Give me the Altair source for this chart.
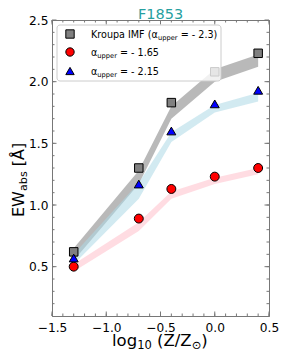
import altair as alt
import pandas as pd

# ---------------- data ----------------
logZ = [-1.3, -0.7, -0.4, 0.0, 0.4]
ew_kroupa = [0.62, 1.30, 1.83, 2.08, 2.23]
ew_a165 = [0.50, 0.89, 1.13, 1.23, 1.30]
ew_a215 = [0.57, 1.17, 1.60, 1.82, 1.93]

band_kroupa_lo = [0.55, 1.17, 1.70, 2.00, 2.12]
band_kroupa_hi = [0.65, 1.28, 1.80, 2.10, 2.22]
band_a215_lo = [0.52, 1.05, 1.51, 1.75, 1.84]
band_a215_hi = [0.60, 1.18, 1.59, 1.81, 1.91]
band_a165_lo = [0.46, 0.79, 1.05, 1.17, 1.25]
band_a165_hi = [0.52, 0.86, 1.11, 1.22, 1.30]

x_major = [-1.5, -1.0, -0.5, 0.0, 0.5]
x_minor = [round(-1.5 + 0.1 * i, 2) for i in range(21)]
y_major = [0.5, 1.0, 1.5, 2.0, 2.5]
y_minor = [round(0.2 + 0.1 * i, 2) for i in range(23)]

W, H = 217, 296
FONT = "DejaVu Sans"
FRAME = "#777777"

xs = alt.Scale(domain=[-1.5, 0.5], nice=False, zero=False)
ys = alt.Scale(domain=[0.1, 2.5], nice=False, zero=False)
xaxis = alt.Axis(values=x_major, format=".1f", ticks=False, grid=False, title=None,
                 labelFontSize=12.2, labelFont=FONT, labelColor="black", labelPadding=5,
                 labelFlush=False, domainColor=FRAME)
yaxis = alt.Axis(values=y_major, format=".1f", ticks=False, grid=False, title=None,
                 labelFontSize=12.2, labelFont=FONT, labelColor="black", labelPadding=4,
                 labelFlush=False, domainColor=FRAME)


def X(f="x"):
    return alt.X(f"{f}:Q", scale=xs, axis=xaxis)


def Y(f="y"):
    return alt.Y(f"{f}:Q", scale=ys, axis=yaxis)


def band(lo, hi, color):
    df = pd.DataFrame({"x": logZ, "y": lo, "y2": hi})
    return alt.Chart(df).mark_area(color=color, opacity=0.55).encode(
        x=X(), y=Y(), y2="y2:Q")


def pts(vals, shape, fill, size=72):
    df = pd.DataFrame({"x": logZ, "y": vals})
    return alt.Chart(df).mark_point(shape=shape, filled=True, fill=fill, stroke="black",
                                    strokeWidth=1, size=size, opacity=1).encode(x=X(), y=Y())


one = pd.DataFrame({"a": [0]})

# widths of DejaVu Sans glyphs (em)
GW = {' ': 0.318, 'K': 0.656, 'r': 0.411, 'o': 0.612, 'u': 0.634, 'p': 0.635, 'a': 0.613,
      'I': 0.295, 'M': 0.863, 'F': 0.575, '(': 0.390, ')': 0.390, 'α': 0.659, '=': 0.838,
      '-': 0.361, '.': 0.318, 'e': 0.615, 'l': 0.278, 'g': 0.635, 'Z': 0.685, '/': 0.337,
      '⊙': 0.838, 'E': 0.632, 'W': 0.989, 'b': 0.635, 's': 0.521, '[': 0.390, ']': 0.390,
      'Å': 0.684}
for d in "0123456789":
    GW[d] = 0.636


def tw(s, size):
    return sum(GW.get(c, 0.6) for c in s) * size


def seg(text, x, y, size, angle=0, color="black", align="left"):
    kw = dict(text=text, align=align, baseline="alphabetic", fontSize=size, font=FONT,
              color=color)
    if angle:
        kw["angle"] = angle
    return alt.Chart(one).mark_text(**kw).encode(x=alt.value(x), y=alt.value(y))


def rich(parts, x0, y0, base, sub, shift, vertical=False):
    layers = []
    pos = 0.0
    for text, is_sub in parts:
        size = sub if is_sub else base
        lead = len(text) - len(text.lstrip(' '))
        pos += tw(' ' * lead, size)
        t = text.lstrip(' ')
        if vertical:
            layers.append(seg(t, x0 + (shift if is_sub else 0), y0 - pos, size, angle=270))
        else:
            layers.append(seg(t, x0 + pos, y0 + (shift if is_sub else 0), size))
        pos += tw(t, size)
    return layers


layers = [
    band(band_kroupa_lo, band_kroupa_hi, "#808080"),
    band(band_a215_lo, band_a215_hi, "#add8e6"),
    band(band_a165_lo, band_a165_hi, "#ffc0cb"),
    pts(ew_kroupa, "square", "#808080"),
    pts(ew_a165, "circle", "#ff0000", 80),
    pts(ew_a215, "triangle-up", "#0000ff", 80),
]


# inward ticks on all four sides
def xticks(vals, length):
    df = pd.DataFrame({"x": vals})
    bot = alt.Chart(df).mark_rule(color=FRAME, strokeWidth=1).encode(
        x=X(), y=alt.value(H), y2=alt.value(H - length))
    top = alt.Chart(df).mark_rule(color=FRAME, strokeWidth=1).encode(
        x=X(), y=alt.value(0), y2=alt.value(length))
    return [bot, top]


def yticks(vals, length):
    df = pd.DataFrame({"y": vals})
    lft = alt.Chart(df).mark_rule(color=FRAME, strokeWidth=1).encode(
        y=Y(), x=alt.value(0), x2=alt.value(length))
    rgt = alt.Chart(df).mark_rule(color=FRAME, strokeWidth=1).encode(
        y=Y(), x=alt.value(W), x2=alt.value(W - length))
    return [lft, rgt]


layers += xticks(x_minor, 2.5) + xticks(x_major, 4.5)
layers += yticks(y_minor, 2.5) + yticks(y_major, 4.5)

# legend box
layers.append(alt.Chart(one).mark_rect(fill="white", fillOpacity=0.8, stroke="#cccccc",
                                       strokeWidth=1, cornerRadius=3).encode(
    x=alt.value(5), x2=alt.value(169), y=alt.value(5), y2=alt.value(61)))

leg_rows = [("square", "#808080", 14), ("circle", "#ff0000", 32), ("triangle-up", "#0000ff", 51)]
for shape, fill, yy in leg_rows:
    layers.append(alt.Chart(one).mark_point(shape=shape, filled=True, fill=fill, stroke="black",
                                            strokeWidth=1, size=70, opacity=1).encode(
        x=alt.value(18), y=alt.value(yy)))

LF, LS = 9.6, 6.7
layers += rich([("Kroupa IMF (α", False), ("upper", True), (" = - 2.3)", False)],
               39, 17.5, LF, LS, 2.3)
layers += rich([("α", False), ("upper", True), (" = - 1.65", False)], 39, 35.5, LF, LS, 2.3)
layers += rich([("α", False), ("upper", True), (" = - 2.15", False)], 39, 54.5, LF, LS, 2.3)

# title
layers.append(seg("F1853", W / 2, -1, 14.5, color="#26a0a0", align="center"))

# axis titles
layers += rich([("log", False), ("10", True), (" (Z/Z", False), ("⊙", True), (")", False)],
               60, 326, 16.5, 11.5, 3)
layers += rich([("EW", False), ("abs", True), (" [Å]", False)],
               -28.5, 197, 16, 11.2, 3.5, vertical=True)

chart = alt.layer(*layers).properties(
    width=W, height=H, autosize="none",
    padding={"left": 44, "top": 12, "right": 10, "bottom": 35},
).configure_view(stroke=FRAME, strokeWidth=1)

chart.save("out.html", embed_options={"renderer": "svg", "actions": False})
